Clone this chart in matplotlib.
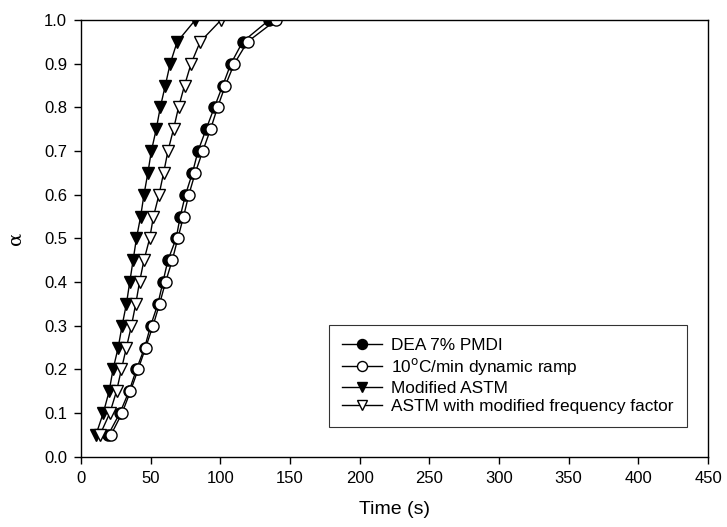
import matplotlib
matplotlib.use('Agg')
import matplotlib.pyplot as plt

plt.rcParams['font.family'] = ['Liberation Sans', 'DejaVu Sans']

alpha = [0.05, 0.10, 0.15, 0.20, 0.25, 0.30, 0.35, 0.40, 0.45, 0.50,
         0.55, 0.60, 0.65, 0.70, 0.75, 0.80, 0.85, 0.90, 0.95, 1.00]

# time (s) for each conversion level
dea_pmdi = [19.5, 27.9, 34.5, 39.8, 45.7, 50.0, 55.2, 58.8, 62.4, 68.3,
            71.2, 75.0, 80.0, 84.0, 89.8, 95.7, 101.7, 107.6, 116.0, 135.0]
dyn_ramp = [21.5, 29.5, 35.5, 41.0, 46.4, 51.7, 56.4, 60.7, 65.5, 69.5,
            73.6, 77.4, 82.0, 87.4, 93.0, 98.0, 103.6, 110.0, 119.5, 140.0]
mod_astm = [10.7, 16.0, 20.2, 23.0, 26.7, 29.5, 32.6, 35.0, 37.4, 39.8,
            42.8, 45.2, 48.0, 50.5, 54.0, 56.9, 60.5, 64.0, 69.0, 82.0]
astm_freq = [13.6, 20.7, 25.5, 29.0, 32.6, 36.2, 39.3, 42.0, 45.2, 49.3,
             52.0, 56.0, 59.3, 62.4, 66.4, 70.0, 74.3, 79.0, 85.5, 100.5]

fig = plt.figure(figsize=(7.27, 5.27), dpi=100)
ax = fig.add_axes([0.1114, 0.1334, 0.8625, 0.8286])

ms_c = 8
ms_t = 8.5
ax.plot(dea_pmdi, alpha, '-o', color='black', mfc='black', mec='black', ms=ms_c, lw=1,
        label='DEA 7% PMDI')
ax.plot(dyn_ramp, alpha, '-o', color='black', mfc='white', mec='black', ms=ms_c, lw=1,
        label='10$^{\\mathrm{o}}$C/min dynamic ramp')
ax.plot(mod_astm, alpha, '-v', color='black', mfc='black', mec='black', ms=ms_t, lw=1,
        label='Modified ASTM')
ax.plot(astm_freq, alpha, '-v', color='black', mfc='white', mec='black', ms=ms_t, lw=1,
        label='ASTM with modified frequency factor')

ax.set_xlim(0, 450)
ax.set_ylim(0, 1.0)
ax.set_xticks(range(0, 451, 50))
ax.set_yticks([i / 10 for i in range(11)])
ax.set_yticklabels(['%.1f' % (i / 10) for i in range(11)])
ax.tick_params(direction='out', length=5, width=1, labelsize=12, pad=5)
for s in ax.spines.values():
    s.set_linewidth(1)

ax.set_xlabel('Time (s)', fontsize=14, labelpad=11)
ax.set_ylabel('α', fontsize=14, family=['DejaVu Serif'], labelpad=14)

leg = ax.legend(loc='lower right', bbox_to_anchor=(0.966, 0.068), fontsize=12.4,
                frameon=True, fancybox=False, edgecolor='black', handlelength=2.3,
                handletextpad=0.55, labelspacing=0.2, borderpad=0.75,
                borderaxespad=0, markerscale=0.9)
leg.get_frame().set_linewidth(0.8)

fig.savefig('out.png', dpi=100)
